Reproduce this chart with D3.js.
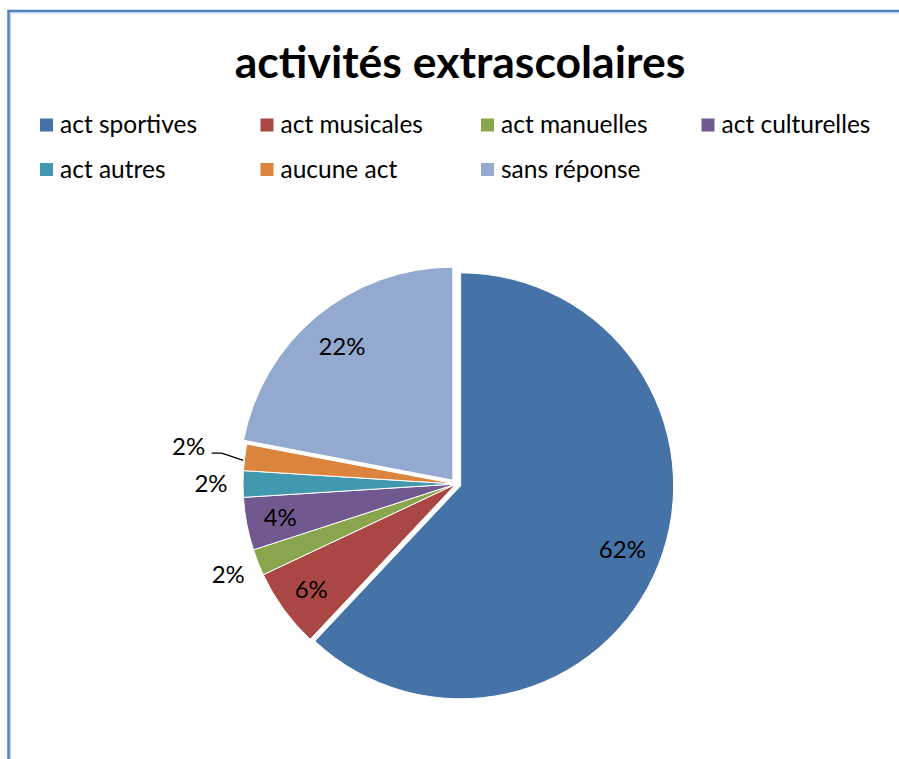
<!DOCTYPE html>
<html>
<head>
<meta charset="utf-8">
<script src="https://cdn.jsdelivr.net/npm/d3@7"></script>
<style>
  body { margin: 0; background: #fff; }
  svg { display: block; font-family: Lato, "Open Sans", sans-serif; }
</style>
</head>
<body>
<svg id="chart" width="899" height="759"></svg>
<script>
// données
const categories = ["act sportives", "act musicales", "act manuelles", "act culturelles", "act autres", "aucune act", "sans réponse"];
const values = [62, 6, 2, 4, 2, 2, 22];
const colors = ["#4572a7", "#aa4643", "#89a54e", "#71588f", "#4198af", "#db843d", "#93a9cf"];
const exploded = ["act sportives", "sans réponse"];

const width = 899, height = 759;
const svg = d3.select("#chart");

// cadre du graphique
svg.append("rect")
  .attr("x", 8.5).attr("y", 11)
  .attr("width", width + 20).attr("height", height + 20)
  .attr("fill", "none")
  .attr("stroke", "#4f81bd")
  .attr("stroke-width", 2.5);
svg.append("rect")
  .attr("x", 10.5).attr("y", 13)
  .attr("width", width + 20).attr("height", height + 20)
  .attr("fill", "none")
  .attr("stroke", "#b9cde5")
  .attr("stroke-width", 1);

svg.append("text")
  .attr("x", 460).attr("y", 78)
  .attr("text-anchor", "middle")
  .attr("font-size", 44.5)
  .attr("font-weight", "bold")
  .text("activités extrascolaires");

// légende : 4 colonnes
const legend = svg.append("g");
const item = legend.selectAll("g")
  .data(categories)
  .join("g")
  .attr("transform", (d, i) => `translate(${40 + (i % 4) * 220.5},${125 + Math.floor(i / 4) * 44.5})`);
item.append("rect")
  .attr("x", 0).attr("y", -6.5)
  .attr("width", 13).attr("height", 13)
  .attr("fill", (d, i) => colors[i]);
item.append("text")
  .attr("x", 20).attr("y", 8)
  .attr("font-size", 24.5)
  .text(d => d);

// camembert
const cx = 456, cy = 484, R = 213;
const pie = d3.pie().sort(null).value(d => d.value);
const arcs = pie(values.map((v, i) => ({ name: categories[i], value: v, color: colors[i] })));
const arc = d3.arc().innerRadius(0).outerRadius(R);
const total = d3.sum(values);

const g = svg.append("g").attr("transform", `translate(${cx},${cy})`);
const mid = d => (d.startAngle + d.endAngle) / 2;
const offset = d => exploded.includes(d.data.name) ? 5 : 0;

g.selectAll("path")
  .data(arcs)
  .join("path")
  .attr("transform", d => `translate(${Math.sin(mid(d)) * offset(d)},${-Math.cos(mid(d)) * offset(d)})`)
  .attr("d", arc)
  .attr("fill", d => d.data.color)
  .attr("stroke", "#fff")
  .attr("stroke-width", 1);

// étiquettes : à l'intérieur pour les grandes parts, à l'extérieur sinon
let prevOutside = -2;
const labels = arcs.map((d, i) => {
  const share = d.value / total;
  let r, outside = false, pushed = false;
  if (share >= 0.04) {
    r = R * 0.84;
  } else {
    outside = true;
    pushed = prevOutside === i - 1;
    r = pushed ? R + 57 : R + 32;
    prevOutside = i;
  }
  const a = mid(d) + (pushed ? 0.015 : 0);
  return { d, a, r, outside, pushed, x: Math.sin(a) * r, y: -Math.cos(a) * r };
});

labels.filter(l => l.pushed).forEach(l => {
  const am = mid(l.d) - 0.015;
  const ex = Math.sin(am) * (R + 1), ey = -Math.cos(am) * (R + 1);
  g.append("polyline")
    .attr("points", [[l.x + 23, l.y + 7], [l.x + 33, l.y + 7], [ex, ey]].map(p => p.join(",")).join(" "))
    .attr("fill", "none")
    .attr("stroke", "#000")
    .attr("stroke-width", 1.3);
});

g.selectAll("text.lbl")
  .data(labels)
  .join("text")
  .attr("class", "lbl")
  .attr("x", l => l.x)
  .attr("y", l => l.y)
  .attr("dy", "0.35em")
  .attr("text-anchor", "middle")
  .attr("font-size", 24)
  .text(l => d3.format(".0%")(l.d.value / total));
</script>
</body>
</html>
